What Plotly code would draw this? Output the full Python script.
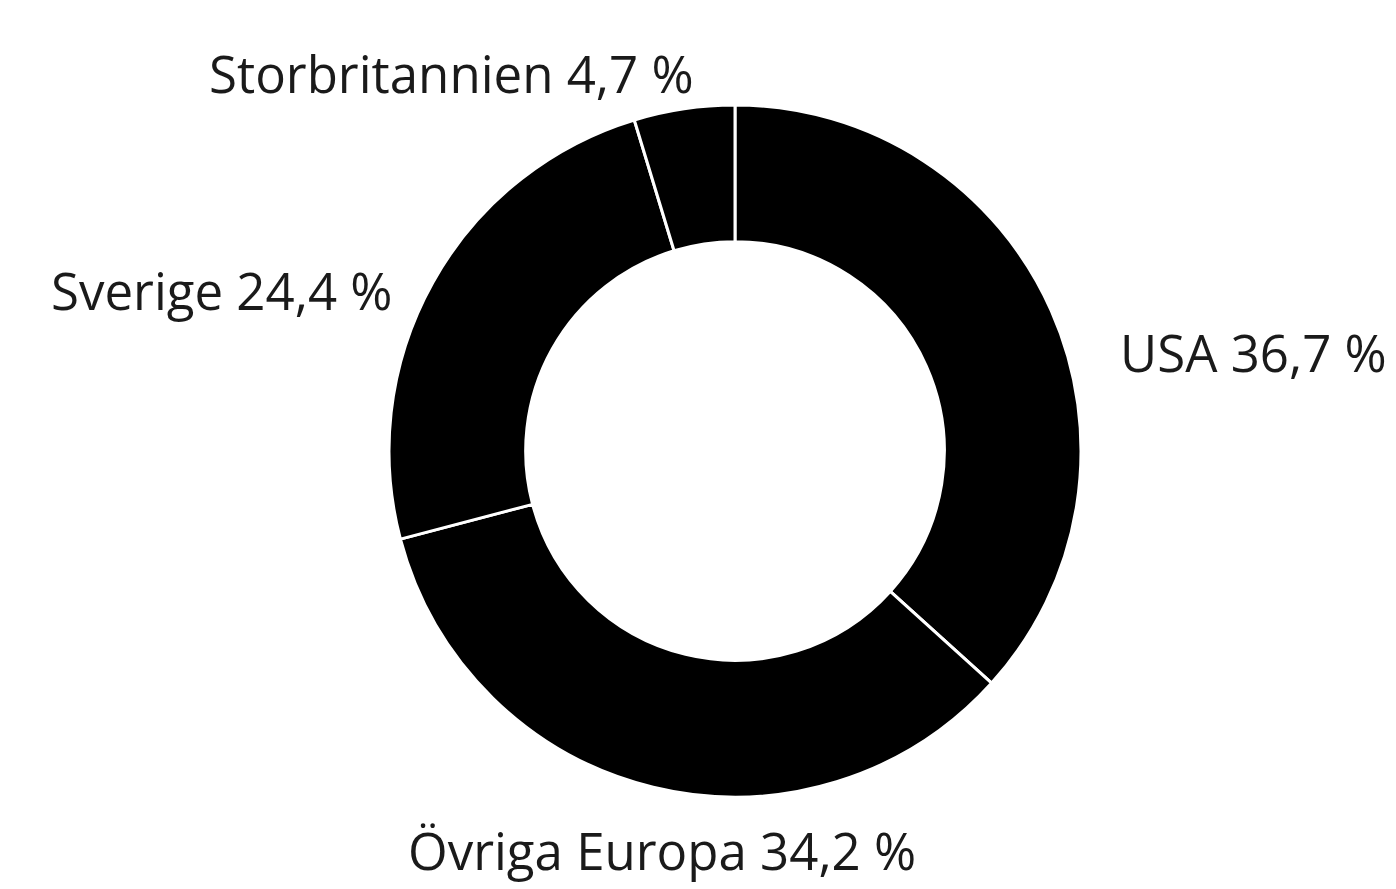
import plotly.graph_objects as go

# Share of sales by region
regions = ["USA", "Övriga Europa", "Sverige", "Storbritannien"]
shares = [36.7, 34.2, 24.4, 4.7]

W, H = 1396, 889
M = dict(l=389, r=315, t=105, b=92)
PW, PH = W - M["l"] - M["r"], H - M["t"] - M["b"]

# label anchor points in page pixels (centre of each text line)
label_px = {
    "USA": (1253, 352),
    "Övriga Europa": (662, 850),
    "Sverige": (221, 290),
    "Storbritannien": (451, 73),
}


def to_paper(px, py):
    return (px - M["l"]) / PW, 1 - (py - M["t"]) / PH


fig = go.Figure(
    go.Pie(
        labels=regions,
        values=shares,
        hole=0.605,
        sort=False,
        direction="clockwise",
        rotation=0,
        marker=dict(colors=["#000000"] * len(regions), line=dict(color="#ffffff", width=3)),
        textinfo="none",
        hoverinfo="label+percent",
        showlegend=False,
        automargin=False,
    )
)

for name, val in zip(regions, shares):
    x, y = to_paper(*label_px[name])
    fig.add_annotation(
        x=x,
        y=y,
        xref="paper",
        yref="paper",
        text=f"{name} {val:.1f} %".replace(".", ","),
        showarrow=False,
        xanchor="center",
        yanchor="middle",
        font=dict(family="Open Sans", size=51, color="#1a1a1a"),
    )

fig.update_layout(
    width=W,
    height=H,
    margin=M,
    paper_bgcolor="#ffffff",
    plot_bgcolor="#ffffff",
)

fig.write_html("out.html")
